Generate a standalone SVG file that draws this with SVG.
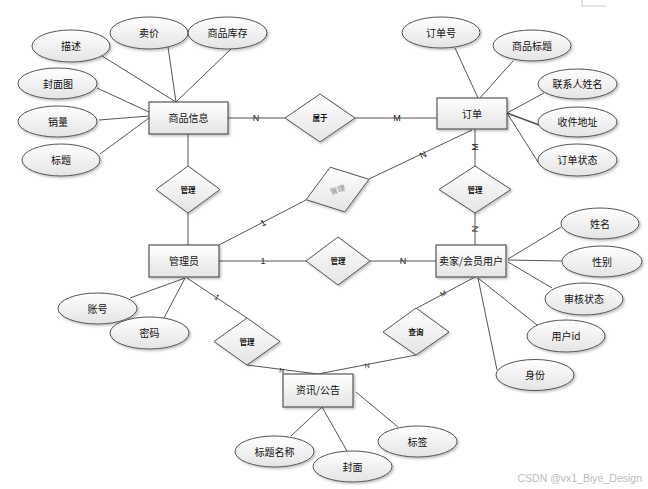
<svg xmlns="http://www.w3.org/2000/svg" width="648" height="489" viewBox="0 0 648 489">
<defs>
<linearGradient id="g" x1="0" y1="0" x2="0" y2="1"><stop offset="0" stop-color="#ffffff"/><stop offset="1" stop-color="#e4e4e4"/></linearGradient>
<filter id="sh" x="-20%" y="-20%" width="150%" height="160%"><feDropShadow dx="1.5" dy="1.5" stdDeviation="1" flood-color="#000" flood-opacity="0.25"/></filter>
<style>
.e{fill:url(#g);stroke:#555;stroke-width:1;filter:url(#sh)}
.r{fill:url(#g);stroke:#555;stroke-width:1.2;filter:url(#sh)}
.d{fill:url(#g);stroke:#555;stroke-width:1;filter:url(#sh)}
.t{font-family:"Noto Sans CJK SC","Liberation Sans",sans-serif;font-size:10px;fill:#111;text-anchor:middle}
.s{font-family:"Noto Sans CJK SC","Liberation Sans",sans-serif;font-size:7.5px;font-weight:bold;fill:#111;text-anchor:middle}
.l{font-family:"Liberation Sans",Arial,sans-serif;font-size:9px;fill:#222;text-anchor:middle}
.c line{stroke:#555;stroke-width:1}
</style>
</defs>
<rect width="648" height="489" fill="#fff"/>
<path d="M582 0 V6 H606" fill="none" stroke="#ccc" stroke-width="1"/>
<g class="c" id="connectors">
<line x1="102" y1="56" x2="176" y2="102"/>
<line x1="168" y1="47" x2="176" y2="102"/>
<line x1="231" y1="49" x2="176" y2="102"/>
<line x1="97" y1="88" x2="149" y2="112"/>
<line x1="99" y1="120" x2="149" y2="116"/>
<line x1="100" y1="154" x2="149" y2="118"/>
<line x1="228" y1="118" x2="285" y2="118"/>
<line x1="355" y1="118" x2="437" y2="118"/>
<line x1="188" y1="134" x2="188" y2="166"/>
<line x1="188" y1="213" x2="188" y2="245"/>
<line x1="455" y1="48" x2="478" y2="98"/>
<line x1="513" y1="61" x2="480" y2="98"/>
<line x1="544" y1="93" x2="507" y2="113"/>
<line x1="507" y1="113" x2="539" y2="125" style="stroke-width:1.5"/>
<line x1="507" y1="113" x2="538" y2="162"/>
<line x1="475" y1="129" x2="475" y2="166"/>
<line x1="475" y1="213" x2="475" y2="245"/>
<line x1="472" y1="130" x2="369" y2="179"/>
<line x1="219" y1="245" x2="306" y2="200"/>
<line x1="219" y1="261" x2="306" y2="261"/>
<line x1="370" y1="261" x2="436" y2="261"/>
<line x1="508" y1="259" x2="561" y2="227"/>
<line x1="508" y1="260" x2="562" y2="261"/>
<line x1="508" y1="262" x2="552" y2="288"/>
<line x1="478" y1="278" x2="537" y2="325"/>
<line x1="478" y1="278" x2="497" y2="370"/>
<line x1="475" y1="277" x2="417" y2="308"/>
<line x1="416" y1="355" x2="318" y2="374"/>
<line x1="187" y1="278" x2="247" y2="318"/>
<line x1="247" y1="365" x2="318" y2="374"/>
<line x1="130" y1="298" x2="185" y2="278"/>
<line x1="164" y1="318" x2="185" y2="278"/>
<line x1="291" y1="436" x2="322" y2="407"/>
<line x1="322" y1="407" x2="347" y2="451"/>
<line x1="356" y1="392" x2="398" y2="427"/>
<text class="l" x="256" y="121">N</text>
<text class="l" x="397" y="121">M</text>
<text class="l" transform="translate(475,147) rotate(-90)" y="3">M</text>
<text class="l" transform="translate(475,229) rotate(-90)" y="3">N</text>
<text class="l" transform="translate(423,155) rotate(-26)" y="3">N</text>
<text class="l" transform="translate(263,223) rotate(-27)" y="3">1</text>
<text class="l" x="263" y="264">1</text>
<text class="l" x="403" y="264">N</text>
<text class="l" transform="translate(217,297) rotate(34)" y="3" style="font-size:8px">1</text>
<text class="l" transform="translate(443,293) rotate(-28)" y="3" style="font-size:7px">M</text>
<text class="l" transform="translate(367,365) rotate(-10)" y="3" style="font-size:7px">N</text>
<text class="l" transform="translate(282,370) rotate(7)" y="3" style="font-size:7px">N</text>
</g>
<g id="e-miaoshu"><ellipse class="e" cx="71" cy="46" rx="39" ry="16"/><text class="t" x="71" y="50">描述</text></g>
<g id="e-maijia"><ellipse class="e" cx="149" cy="33" rx="39" ry="16"/><text class="t" x="149" y="37">卖价</text></g>
<g id="e-kucun"><ellipse class="e" cx="227.5" cy="33" rx="39.5" ry="16"/><text class="t" x="227.5" y="37">商品库存</text></g>
<g id="e-fengmiantu"><ellipse class="e" cx="57.5" cy="83.5" rx="39.5" ry="15.5"/><text class="t" x="58" y="87.5">封面图</text></g>
<g id="e-xiaoliang"><ellipse class="e" cx="57.5" cy="121.5" rx="39.5" ry="15.5"/><text class="t" x="58" y="125.5">销量</text></g>
<g id="e-biaoti"><ellipse class="e" cx="61" cy="160" rx="39" ry="16"/><text class="t" x="61" y="164">标题</text></g>
<g id="e-dingdanhao"><ellipse class="e" cx="441" cy="32.5" rx="39" ry="15.5"/><text class="t" x="441" y="36.5">订单号</text></g>
<g id="e-spbiaoti"><ellipse class="e" cx="532" cy="45.5" rx="39" ry="15.5"/><text class="t" x="532" y="49.5">商品标题</text></g>
<g id="e-lianxiren"><ellipse class="e" cx="577.5" cy="84" rx="39.5" ry="15"/><text class="t" x="577.5" y="88">联系人姓名</text></g>
<g id="e-dizhi"><ellipse class="e" cx="577.5" cy="122" rx="39.5" ry="15"/><text class="t" x="577.5" y="126">收件地址</text></g>
<g id="e-ddzt"><ellipse class="e" cx="577.5" cy="160" rx="39.5" ry="16"/><text class="t" x="577.5" y="164">订单状态</text></g>
<g id="e-xingming"><ellipse class="e" cx="600" cy="223.5" rx="39" ry="15.5"/><text class="t" x="600" y="227.5">姓名</text></g>
<g id="e-xingbie"><ellipse class="e" cx="602" cy="261.5" rx="40" ry="15.5"/><text class="t" x="602" y="265.5">性别</text></g>
<g id="e-shenhe"><ellipse class="e" cx="584" cy="299" rx="39" ry="16"/><text class="t" x="584" y="303">审核状态</text></g>
<g id="e-yonghuid"><ellipse class="e" cx="566" cy="336" rx="39" ry="16"/><text class="t" x="566" y="340">用户id</text></g>
<g id="e-shenfen"><ellipse class="e" cx="535" cy="375" rx="39" ry="15.5"/><text class="t" x="535" y="379">身份</text></g>
<g id="e-zhanghao"><ellipse class="e" cx="97.5" cy="308.5" rx="39.5" ry="15.5"/><text class="t" x="97.5" y="312.5">账号</text></g>
<g id="e-mima"><ellipse class="e" cx="149.5" cy="333" rx="39.5" ry="16"/><text class="t" x="149.5" y="337">密码</text></g>
<g id="e-btmc"><ellipse class="e" cx="274.5" cy="451.5" rx="39.5" ry="15.5"/><text class="t" x="274.5" y="455.5">标题名称</text></g>
<g id="e-fengmian"><ellipse class="e" cx="352.5" cy="466.5" rx="39.5" ry="15.5"/><text class="t" x="352.5" y="470.5">封面</text></g>
<g id="e-biaoqian"><ellipse class="e" cx="417.5" cy="441.5" rx="39.5" ry="15.5"/><text class="t" x="417.5" y="445.5">标签</text></g>
<g id="n-shangpin"><rect class="r" x="149" y="102" width="79" height="32"/><text class="t" x="188.5" y="122">商品信息</text></g>
<g id="n-dingdan"><rect class="r" x="437" y="98" width="70" height="31"/><text class="t" x="472" y="117.5">订单</text></g>
<g id="n-guanliyuan"><rect class="r" x="149" y="245" width="70" height="32"/><text class="t" x="184" y="265">管理员</text></g>
<g id="n-yonghu"><rect class="r" x="436" y="245" width="70" height="32"/><text class="t" x="471" y="265">卖家/会员用户</text></g>
<g id="n-zixun"><rect class="r" x="283" y="374" width="70" height="33"/><text class="t" x="318" y="394">资讯/公告</text></g>
<g id="d-shuyu"><polygon class="d" points="320,94 355,118 320,142 285,118"/><text class="s" x="320" y="121">属于</text></g>
<g id="d-guanli1"><polygon class="d" points="188,166 220,189.5 188,213 156,189.5"/><text class="s" x="188" y="192.5">管理</text></g>
<g id="d-guanli2"><polygon class="d" points="475,166 511,189.5 475,213 439,189.5"/><text class="s" x="475" y="192.5">管理</text></g>
<g id="d-guanli3"><polygon class="d" points="338,237 370,261 338,285 306,261"/><text class="s" x="338" y="264">管理</text></g>
<g id="d-guanli4"><polygon class="d" points="368.9,179.3 344.8,211.9 306.1,199.7 330.2,167.2"/><text class="s" transform="translate(337.5,189.5) rotate(-18)" x="0" y="3" style="fill:#888;font-weight:normal">管理</text></g>
<g id="d-guanli5"><polygon class="d" points="247,318 280,341.5 247,365 214,341.5"/><text class="s" x="247" y="344.5">管理</text></g>
<g id="d-chaxun"><polygon class="d" points="416,308 449,332 416,355 383,332"/><text class="s" x="416" y="335">查询</text></g>
<text x="642" y="482" style="font-family:'Liberation Sans',Arial,sans-serif;font-size:10.5px;fill:#bbb;text-anchor:end">CSDN @vx1_Biye_Design</text>
</svg>
